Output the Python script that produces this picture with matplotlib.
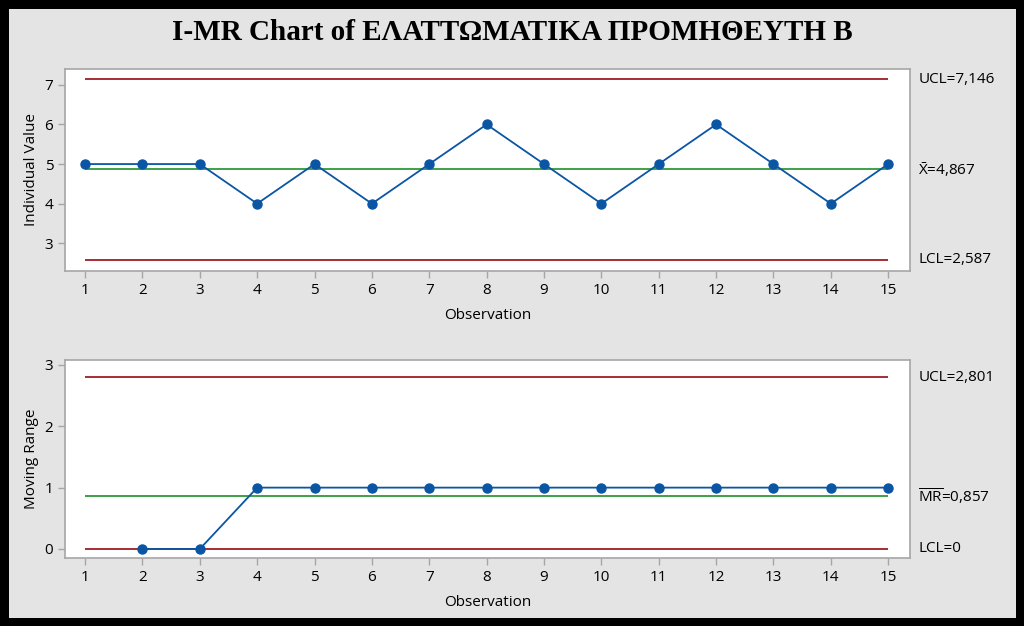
import matplotlib.pyplot as plt
import numpy as np

plt.rcParams['font.family'] = ['Open Sans', 'DejaVu Sans']
plt.rcParams['mathtext.fontset'] = 'custom'
plt.rcParams['mathtext.rm'] = 'Open Sans'
plt.rcParams['mathtext.it'] = 'Open Sans'

obs = np.arange(1, 16)
values = [5, 5, 5, 4, 5, 4, 5, 6, 5, 4, 5, 6, 5, 4, 5]
mr_obs = np.arange(2, 16)
mr_values = [0, 0, 1, 1, 1, 1, 1, 1, 1, 1, 1, 1, 1, 1]

i_ucl, i_cl, i_lcl = 7.146, 4.867, 2.587
mr_ucl, mr_cl, mr_lcl = 2.801, 0.857, 0

title = "I-MR Chart of ΕΛΑΤΤΩΜΑΤΙΚΑ ΠΡΟΜΗΘΕΥΤΗ Β"

blue = '#0a56a4'
red = '#9e1c24'
green = '#2f9a3a'
grey = '#a6a6a6'

fig = plt.figure(figsize=(10.24, 6.26), dpi=100, facecolor='#e4e4e4',
                 edgecolor='black', linewidth=12)
ax1 = fig.add_axes([65/1024, 1-271/626, 845/1024, 202/626])
ax2 = fig.add_axes([65/1024, 1-558/626, 845/1024, 198/626])

fig.text(0.5, 1-32/626, title, ha='center', va='center',
         family='Liberation Serif', fontweight='bold', fontsize=21)


def style(ax):
    for s in ax.spines.values():
        s.set_color(grey)
        s.set_linewidth(1.2)
    ax.tick_params(colors=grey, labelcolor='black', labelsize=11,
                   length=5, width=1)
    ax.set_xticks(obs)
    ax.set_xlim(0.65, 15.38)
    ax.set_xlabel('Observation', fontsize=11, labelpad=7)


# Individuals chart
ax1.hlines([i_ucl, i_lcl], 1, 15, color=red, lw=1.3)
ax1.hlines(i_cl, 1, 15, color=green, lw=1.3)
ax1.plot(obs, values, color=blue, lw=1.3, marker='o', ms=6.5)
ax1.set_ylim(2.30, 7.40)
ax1.set_yticks([3, 4, 5, 6, 7])
ax1.set_ylabel('Individual Value', fontsize=11)
style(ax1)

# Moving range chart
ax2.hlines([mr_ucl, mr_lcl], 1, 15, color=red, lw=1.3)
ax2.hlines(mr_cl, 1, 15, color=green, lw=1.3)
ax2.plot(mr_obs, mr_values, color=blue, lw=1.3, marker='o', ms=6.5)
ax2.set_ylim(-0.147, 3.08)
ax2.set_yticks([0, 1, 2, 3])
ax2.set_ylabel('Moving Range', fontsize=11)
style(ax2)

# control limit labels
def lab(ax, y, s):
    ax.text(1.01, y, s, transform=ax.get_yaxis_transform(), va='center',
            ha='left', fontsize=11, clip_on=False)

lab(ax1, i_ucl, 'UCL=7,146')
lab(ax1, i_cl, r'$\bar{\mathrm{X}}$=4,867')
lab(ax1, i_lcl, 'LCL=2,587')
lab(ax2, mr_ucl, 'UCL=2,801')
lab(ax2, mr_cl, r'$\overline{\mathrm{MR}}$=0,857')
lab(ax2, mr_lcl, 'LCL=0')

fig.savefig('out.png', dpi=100, facecolor=fig.get_facecolor(),
            edgecolor=fig.get_edgecolor())
